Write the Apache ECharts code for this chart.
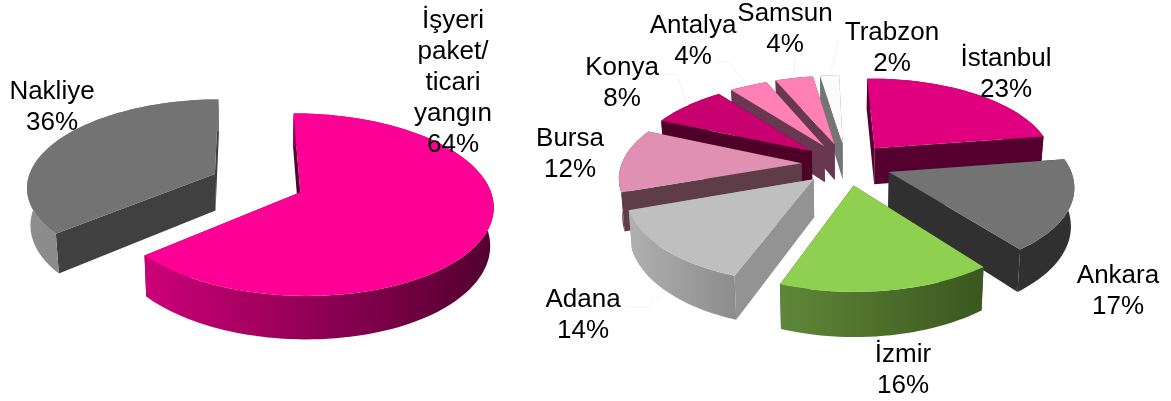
<!DOCTYPE html>
<html><head><meta charset="utf-8">
<style>html,body{margin:0;padding:0;background:#fff}#c{width:1171px;height:401px}</style>
<script src="https://cdn.jsdelivr.net/npm/echarts@6/dist/echarts.min.js"></script>
</head><body><div id="c"></div>
<script>
// ---- data ----
const leftNames = ['İşyeri\npaket/\nticari\nyangın', 'Nakliye'];
const leftValues = [64, 36];
const rightNames = ['İstanbul', 'Ankara', 'İzmir', 'Adana', 'Bursa', 'Konya', 'Antalya', 'Samsun', 'Trabzon'];
const rightValues = [23, 17, 16, 14, 12, 8, 4, 4, 2];

// ---- styles: [top, arc wall left, arc wall right, radial wall] ----
const leftColors = [
  ['#ff0096', '#cc0078', '#52002f', '#52002f'],
  ['#737373', '#8e8e8e', '#7a7a7a', '#404040']
];
const rightColors = [
  ['#e0007f', '#56002f', '#56002f', '#56002f'],
  ['#737373', '#303030', '#303030', '#303030'],
  ['#8fd050', '#5f8738', '#3b571f', '#3b571f'],
  ['#bfbfbf', '#b0b0b0', '#8c8c8c', '#939393'],
  ['#e090b0', '#5e3c48', '#5e3c48', '#5e3c48'],
  ['#c80070', '#4f0029', '#4f0029', '#4f0029'],
  ['#ff80b4', '#673850', '#673850', '#673850'],
  ['#ff80b4', '#673850', '#673850', '#673850'],
  ['#fbfbfb', '#757575', '#757575', '#757575']
];
// ---- layout ----
const leftPie = {cx: 257, cy: 183, R: 188, Ry: 87, K: 0.135, explode: 0.25, start: -0.5, names: leftNames, values: leftValues, colors: leftColors,
  labels: [[453, 83], [52, 107]], leaders: [null, null]};
const rightPie = {cx: 846.5, cy: 164, R: 180, Ry: 84, K: 0.145, explode: 0.25, start: -1.5, names: rightNames, values: rightValues, colors: rightColors,
  labels: [[1006, 74], [1118, 291], [903, 370], [583, 315], [570, 154], [622, 83], [693, 41], [785, 29], [892, 48]],
  leaders: [null, null, null, [[627, 307], [647, 307]], null, [[663, 74], [677, 74]], [[717, 62], [728, 62]], [[795, 58], [795, 58]], [[838, 40], [835, 55]]]};
const DEPTH = 37, FONT = 26;

function point(pie, mid, theta, r, down) {
  const s = Math.PI / 180;
  const u = pie.explode * Math.sin(mid * s) + r * Math.sin(theta * s);
  const v = -pie.explode * Math.cos(mid * s) - r * Math.cos(theta * s);
  const w = 1 / (1 - pie.K * v);
  let x = pie.cx + pie.R * u * w;
  let y = pie.cy + pie.Ry * v * w;
  if (down) { x = pie.cx + (x - pie.cx) * 0.985; y += DEPTH * w; }
  return [x, y];
}
function sliceRows(pie) {
  let cum = 0;
  const rows = pie.values.map((val, i) => { const row = [cum, val, i]; cum += val; return row; });
  const depthOf = row => -Math.cos((pie.start + (row[0] + row[1] / 2) * 3.6) * Math.PI / 180);
  return rows.sort((a, b) => depthOf(a) - depthOf(b));
}
function makeRender(pie) {
  return function (params, api) {
    const startPct = api.value(0), val = api.value(1), idx = api.value(2);
    const a0 = pie.start + startPct * 3.6, a1 = a0 + val * 3.6, mid = (a0 + a1) / 2;
    const col = pie.colors[idx];
    const arcTop = [], arcBot = [];
    const n = Math.max(4, Math.ceil((a1 - a0) / 2));
    for (let i = 0; i <= n; i++) {
      const t = a0 + (a1 - a0) * i / n;
      arcTop.push(point(pie, mid, t, 1, false));
      arcBot.push(point(pie, mid, t, 1, true));
    }
    const apexT = point(pie, mid, mid, 0, false), apexB = point(pie, mid, mid, 0, true);
    const wall = pts => ({type: 'polygon', shape: {points: pts}, style: {fill: col[3]}});
    const children = [
      wall([arcTop[0], apexT, apexB, arcBot[0]]),
      wall([arcTop[n], apexT, apexB, arcBot[n]]),
      {type: 'polygon', shape: {points: arcTop.concat(arcBot.slice().reverse())},
       style: {fill: new echarts.graphic.LinearGradient(0, 0, 1, 0, [{offset: 0, color: col[1]}, {offset: 1, color: col[2]}])}},
      {type: 'polygon', shape: {points: [apexT].concat(arcTop)}, style: {fill: col[0]}}
    ];
    const lab = pie.labels[idx], lead = pie.leaders[idx];
    if (lead) {
      const near = -Math.cos(mid * Math.PI / 180) > 0;
      children.push({type: 'polyline', z2: 50, shape: {points: [lead[0], lead[1], point(pie, mid, mid, 1, near)]},
        style: {fill: 'none', stroke: '#f3f3f3', lineWidth: 1}});
    }
    children.push({type: 'text', z2: 100, style: {
      text: pie.names[idx] + '\n' + val + '%', x: lab[0], y: lab[1], align: 'center', verticalAlign: 'middle',
      fill: '#000', font: FONT + 'px "Liberation Sans", Arial, sans-serif', lineHeight: 31
    }});
    return {type: 'group', children};
  };
}
const chart = echarts.init(document.getElementById('c'), null, {renderer: 'canvas'});
chart.setOption({
  animation: false,
  backgroundColor: '#fff',
  series: [leftPie, rightPie].map(pie => ({
    type: 'custom', coordinateSystem: 'none', silent: true,
    renderItem: makeRender(pie), data: sliceRows(pie)
  }))
});
</script></body></html>
